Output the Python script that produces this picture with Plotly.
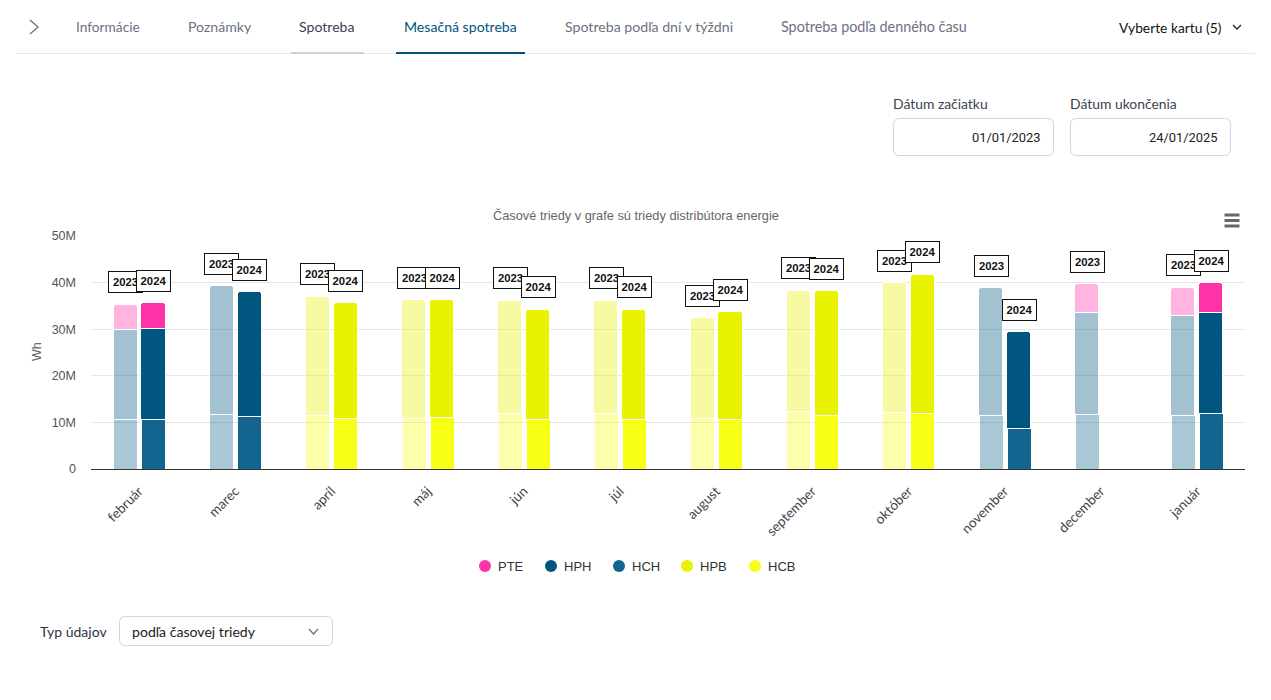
import plotly.graph_objects as go

months = ["február", "marec", "apríl", "máj", "jún", "júl", "august", "september", "október", "november", "december", "január"]
N = None
# Values in millions of Wh
pte_2023 = [5.5, N, N, N, N, N, N, N, N, N, 6.2, 6.1]
hph_2023 = [19.2, 27.6, N, N, N, N, N, N, N, 27.4, 21.8, 21.4]
hch_2023 = [10.6, 11.6, N, N, N, N, N, N, N, 11.4, 11.6, 11.4]
hpb_2023 = [N, N, 25.6, 25.4, 24.3, 24.3, 21.5, 26.1, 27.9, N, N, N]
hcb_2023 = [N, N, 11.4, 10.8, 11.8, 11.8, 10.8, 12.2, 12.0, N, N, N]
pte_2024 = [5.5, N, N, N, N, N, N, N, N, N, N, 6.5]
hph_2024 = [19.5, 26.7, N, N, N, N, N, N, N, 20.8, N, 21.6]
hch_2024 = [10.6, 11.2, N, N, N, N, N, N, N, 8.5, N, 11.8]
hpb_2024 = [N, N, 24.8, 25.2, 23.7, 23.6, 23.0, 26.7, 29.9, N, N, N]
hcb_2024 = [N, N, 10.8, 11.0, 10.5, 10.6, 10.6, 11.4, 11.8, N, N, N]

classes = ["HCB", "HCH", "HPB", "HPH", "PTE"]
lowest = {"HCB", "HCH"}
legend_order = ["PTE", "HPH", "HCH", "HPB", "HCB"]
colors = {"PTE": (255, 51, 168), "HPH": (0, 86, 127), "HCH": (19, 100, 142), "HPB": (233, 242, 0), "HCB": (246, 255, 20)}
series = {
    2023: {"PTE": pte_2023, "HPH": hph_2023, "HCH": hch_2023, "HPB": hpb_2023, "HCB": hcb_2023},
    2024: {"PTE": pte_2024, "HPH": hph_2024, "HCH": hch_2024, "HPB": hpb_2024, "HCB": hcb_2024},
}
year_offset = {2023: -0.14, 2024: 0.15}
year_alpha = {2023: 0.36, 2024: 1.0}

L, R, T, B = 91, 1245, 236, 469
def px(x): return (x - L) / (R - L)
def py(y): return (B - y) / (B - T)

fig = go.Figure()
idx = list(range(len(months)))
for year, data in series.items():
    xs = [i + year_offset[year] for i in idx]
    for c in classes:
        r, g, b = colors[c]
        base_seg = c in lowest
        fig.add_bar(
            x=xs, y=[None if v is None else v * 1e6 for v in data[c]],
            width=0.239 if base_seg else 0.25, name=f"{c} {year}", showlegend=False,
            marker=dict(color=f"rgba({r},{g},{b},{year_alpha[year]})",
                        line=dict(color="white", width=0 if base_seg else 1), cornerradius=3),
        )

annotations = []
def text(x, y, s, size=14.1, color="#6b7280", anchor="left", family="Lato"):
    nudge = {"left": -2, "right": 2, "center": 0}[anchor]
    annotations.append(dict(xref="paper", yref="paper", x=px(x + nudge), y=py(y), text=s, showarrow=False,
                            xanchor=anchor, yanchor="middle", font=dict(family=family, size=size, color=color)))

for i in idx:
    for year, data in series.items():
        vals = [data[c][i] for c in classes if data[c][i] is not None]
        if vals:
            annotations.append(dict(x=i + year_offset[year], y=sum(vals) * 1e6, yshift=22.5, text=f"<b>{year}</b>",
                                    showarrow=False, width=33, height=20, bgcolor="white", bordercolor="#111",
                                    borderwidth=1, borderpad=0, xanchor="center", yanchor="middle",
                                    font=dict(family="Liberation Sans", size=11.3, color="#111")))

text(636, 215, "Časové triedy v grafe sú triedy distribútora energie", 12.8, "#666", "center", "Liberation Sans")
annotations.append(dict(xref="paper", yref="paper", x=px(37), y=py(352), text="Wh", textangle=-90, showarrow=False,
                        xanchor="center", yanchor="middle",
                        font=dict(family="Liberation Sans", size=12.5, color="#666")))
tabs = [("Informácie", 76, "#6b7280", 13.7), ("Poznámky", 188, "#6b7280", 14.1), ("Spotreba", 299, "#3d4250", 14.1),
        ("Mesačná spotreba", 404, "#00547c", 14.1), ("Spotreba podľa dní v týždni", 565, "#6b7280", 14.15),
        ("Spotreba podľa denného času", 781, "#6b7280", 14.35)]
for s, x, col, size in tabs:
    text(x, 26, s, size, col)
text(1119, 27, "Vyberte kartu (5)", 13.8, "#111")
text(893, 103.5, "Dátum začiatku", 13.9, "#3d4250")
text(1070, 103.5, "Dátum ukončenia", 13.9, "#3d4250")
text(1041, 137, "01/01/2023", 12.9, "#222", "right", "Roboto")
text(1218, 137, "24/01/2025", 12.9, "#222", "right", "Roboto")
text(40, 631, "Typ údajov", 14, "#2c3342")
text(132, 631, "podľa časovej triedy", 14.1, "#222")

shapes = []
def line(x0, y0, x1, y1, color, width):
    shapes.append(dict(type="line", xref="paper", yref="paper", x0=px(x0), y0=py(y0), x1=px(x1), y1=py(y1),
                       line=dict(color=color, width=width)))
def polyline(points, color, width):
    p = " ".join(("M" if i == 0 else "L") + f"{px(x):.5f},{py(y):.5f}" for i, (x, y) in enumerate(points))
    shapes.append(dict(type="path", xref="paper", yref="paper", path=p, line=dict(color=color, width=width)))
def round_box(x0, y0, x1, y1, r, color):
    p = (f"M{px(x0+r):.5f},{py(y0):.5f} L{px(x1-r):.5f},{py(y0):.5f} Q{px(x1):.5f},{py(y0):.5f} {px(x1):.5f},{py(y0+r):.5f} "
         f"L{px(x1):.5f},{py(y1-r):.5f} Q{px(x1):.5f},{py(y1):.5f} {px(x1-r):.5f},{py(y1):.5f} "
         f"L{px(x0+r):.5f},{py(y1):.5f} Q{px(x0):.5f},{py(y1):.5f} {px(x0):.5f},{py(y1-r):.5f} "
         f"L{px(x0):.5f},{py(y0+r):.5f} Q{px(x0):.5f},{py(y0):.5f} {px(x0+r):.5f},{py(y0):.5f} Z")
    shapes.append(dict(type="path", xref="paper", yref="paper", path=p, line=dict(color=color, width=1)))

line(16, 53.5, 1255, 53.5, "#e8e9ee", 1)
line(291, 53, 364, 53, "#cfd0d8", 2)
line(396, 53, 525, 53, "#00547c", 2)
polyline([(30, 20), (38, 27), (30, 34)], "#6b7280", 1.3)
polyline([(1233, 25), (1237, 29), (1241, 25)], "#222", 1.3)
polyline([(309, 629), (313.5, 634), (318, 629)], "#6b7280", 1.3)
round_box(893.5, 118.5, 1053.5, 155.5, 6, "#d4d5dc")
round_box(1070.5, 118.5, 1230.5, 155.5, 6, "#d4d5dc")
round_box(119.5, 616.5, 332.5, 645.5, 6, "#d4d5dc")
for yy in (215, 220.5, 226):
    line(1224.5, yy, 1239.5, yy, "#666", 3)

# Legend row: dot and label, set to the reference's tight dot-to-label spacing
legend_x = [485, 551, 619, 687, 755]
for c, x in zip(legend_order, legend_x):
    r, g, b = colors[c]
    shapes.append(dict(type="circle", xref="paper", yref="paper", x0=px(x - 6), x1=px(x + 6), y0=py(560), y1=py(572),
                       fillcolor=f"rgb({r},{g},{b})", line=dict(width=0)))
    text(x + 13, 566, c, 13, "#333", "left", "Liberation Sans")

fig.update_layout(
    width=1271, height=700, barmode="stack", bargap=0, autosize=False, showlegend=False,
    margin=dict(l=L, r=1271 - R, t=T, b=700 - B),
    paper_bgcolor="white", plot_bgcolor="white",
    annotations=annotations, shapes=shapes,
    xaxis=dict(range=[-0.5, 11.5], tickmode="array", tickvals=idx, ticktext=months, tickangle=-45,
               showgrid=False, zeroline=False, showline=True, linecolor="#333", linewidth=1, ticks="",
               ticklabelstandoff=8, tickfont=dict(family="Lato", size=13.5, color="#444")),
    yaxis=dict(range=[0, 50e6], dtick=10e6, tickformat=".0s", gridcolor="#e6e6e6", gridwidth=1, zeroline=False,
               ticks="", showline=False, ticklabelstandoff=14,
               tickfont=dict(family="Liberation Sans", size=12.5, color="#555")),
)
fig.write_html("out.html", config={"displayModeBar": False},
               post_script="document.body.style.margin='0';")
